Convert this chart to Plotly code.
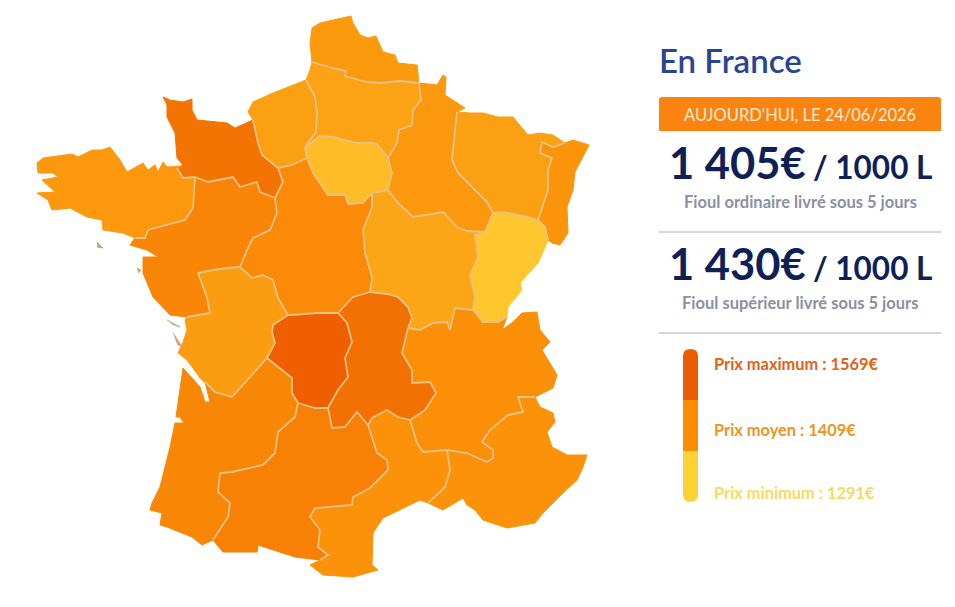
import plotly.graph_objects as go
from plotly.colors import sample_colorscale

# region prices (EUR / 1000 L), estimated from the map colours
PRICE_MIN = 1291
PRICE_AVG = 1409
PRICE_MAX = 1569
PRICE_ORD = "1 405€"
PRICE_SUP = "1 430€"
COLOR_MIN = "#FFCB30"
COLOR_AVG = "#FB9008"
COLOR_MAX = "#EF5F00"

region_names = ["Nord-Pas-de-Calais", "Picardie", "Haute-Normandie", "Basse-Normandie", "Bretagne",
                "Pays de la Loire", "Centre", "Ile-de-France", "Champagne-Ardenne", "Lorraine", "Alsace",
                "Franche-Comté", "Bourgogne", "Auvergne", "Limousin", "Poitou-Charentes", "Aquitaine",
                "Midi-Pyrénées", "Languedoc-Roussillon", "Rhône-Alpes", "PACA"]
region_prices = [1390, 1372, 1378, 1500, 1392, 1445, 1428, 1320, 1392, 1376, 1400,
                 1300, 1366, 1512, 1569, 1385, 1440, 1462, 1405, 1409, 1406]

# shared borders (map units)
npc_pic = [(312,62),(332,68),(346,71),(345,76),(359,80),(367,82),(380,83),(400,81),(419,83)]
pic_hn = [(306,80),(315,97),(317,113),(316,132),(305,147)]
pic_cha = [(419,83),(421,100),(413,110),(412,125),(399,130),(397,143),(388,158)]
pic_idf = [(305,147),(320,136),(333,137),(357,143),(372,143),(377,144),(388,158)]
hn_idf = [(305,147),(307,158)]
hn_bn = [(253,120),(258,143),(262,155),(278,168)]
hn_cen = [(278,168),(292,165),(307,158)]
idf_cha = [(388,158),(392,173),(388,190)]
idf_bou = [(388,190),(372,193)]
idf_cen = [(372,193),(363,203),(348,204),(345,195),(328,195),(313,173),(307,158)]
cen_bou = [(372,193),(372,207),(363,230),(365,253),(372,277),(370,292)]
cen_auv = [(370,292),(353,297),(338,313)]
cen_lim = [(338,313),(317,313),(292,315),(288,315)]
cen_poi = [(288,315),(278,298),(273,280),(263,275),(252,278),(240,267)]
cen_pdl = [(240,267),(247,250),(253,238),(270,230),(277,213),(275,198)]
cen_bn = [(275,198),(283,182),(278,168)]
bn_pdl = [(195,177),(208,182),(233,177),(240,187),(257,182),(260,192),(275,198)]
bn_bre = [(177,168),(183,178),(195,177)]
bre_pdl = [(195,177),(193,208),(185,220),(148,230),(145,238),(135,238)]
pdl_poi = [(240,267),(227,268),(213,270),(198,273),(207,298),(210,313),(187,317)]
poi_lim = [(288,315),(273,325),(272,332),(275,343),(267,358)]
poi_aqu = [(267,358),(247,380),(232,397),(215,392),(205,382)]
lim_auv = [(338,313),(347,323),(352,342),(345,358),(348,377),(338,390),(328,408)]
lim_aqu = [(267,358),(278,367),(292,378),(292,393),(298,403)]
lim_mid = [(298,403),(315,408),(328,408)]
auv_mid = [(328,408),(332,428),(345,427),(357,412),(368,425)]
auv_lr = [(368,425),(372,418),(387,410),(398,417),(410,420)]
auv_ra = [(410,420),(425,410),(436,393),(430,382),(412,383),(412,370),(402,353),(405,340),(408,328)]
auv_bou = [(408,328),(412,318),(408,307),(398,297),(387,294),(370,292)]
bou_ra = [(408,328),(420,330),(433,323),(447,322),(450,330),(455,308),(473,310)]
bou_fc = [(473,310),(475,297),(470,275),(478,257),(475,235),(485,232)]
bou_cha = [(388,190),(398,203),(413,217),(443,212),(457,227),(467,231),(485,232)]
cha_lor = [(457,112),(453,150),(452,160),(458,173),(475,190),(487,202),(493,213)]
cha_fc = [(485,232),(493,213)]
lor_fc = [(493,213),(503,212),(527,217),(538,220)]
lor_als = [(565,143),(553,147),(542,142),(540,153),(552,158),(548,170),(548,190),(538,220)]
als_fc = [(538,220),(545,227),(548,240)]
fc_ra = [(473,310),(483,322),(498,322),(507,317)]
aqu_mid = [(298,403),(295,417),(278,432),(275,453),(263,465),(232,472),(220,473),(218,492),(230,503),(228,517),(213,540)]
mid_lr = [(368,425),(377,453),(387,460),(388,470),(370,488),(353,497),(352,505),(315,508),(310,517),(320,530),(318,547),(328,555),(320,560)]
lr_ra = [(410,420),(417,443),(423,452),(447,450)]
lr_paca = [(447,450),(450,470),(445,487),(428,503)]
ra_paca = [(447,450),(467,453),(487,462),(493,458),(493,450),(482,442),(490,430),(508,415),(523,412),(518,397),(535,397)]

# coasts and land frontiers
c_npc = [(312,62),(310,43),(312,28),(320,23),(333,20),(351,16),(353,23),(360,35),(368,38),(376,36),(383,52),(395,55),(398,63),(417,65),(419,83)]
c_pic = [(306,80),(310,70),(312,62)]
c_hn = [(253,120),(250,115),(248,112),(253,102),(273,93),(306,80)]
c_bn = [(177,168),(183,165),(177,158),(175,133),(167,117),(167,105),(163,97),(170,100),(183,102),(192,99),(192,110),(197,120),(227,123),(235,128),(253,120)]
c_bre = [(135,238),(123,233),(103,230),(102,220),(87,217),(70,208),(52,210),(48,200),(37,193),(55,192),(48,185),(42,180),(58,177),(53,173),(38,173),(37,163),(43,158),(72,154),(78,157),(92,150),(102,150),(110,147),(120,160),(127,172),(143,163),(148,170),(155,165),(158,172),(163,162),(167,167),(182,166),(177,168)]
c_pdl = [(187,317),(170,315),(153,297),(143,273),(143,257),(158,257),(147,250),(130,245),(135,238)]
c_cha = [(419,83),(437,85),(443,75),(446,77),(445,95),(465,108),(457,112)]
c_lor = [(457,112),(470,113),(483,113),(498,117),(513,117),(528,135),(540,133),(553,135),(565,143)]
c_als = [(565,143),(573,140),(589,145),(583,157),(575,172),(573,190),(567,207),(568,233),(560,245),(552,243),(548,240)]
c_fc = [(548,240),(543,252),(538,263),(520,283),(522,290),(508,307),(507,317)]
c_poi = [(205,382),(200,378),(187,360),(178,353),(183,342),(187,330),(185,320),(187,317)]
c_aqu = [(213,540),(202,545),(192,537),(167,527),(160,525),(162,513),(150,510),(152,503),(160,487),(170,447),(175,423),(184,423),(180,417),(176,417),(183,368),(200,387),(205,402),(210,402),(205,382)]
c_mid = [(320,560),(295,557),(258,545),(257,552),(223,552),(213,540)]
c_lr = [(428,503),(420,500),(383,518),(373,533),(372,565),(378,570),(353,577),(323,575),(310,565),(320,560)]
c_ra = [(507,317),(502,330),(513,322),(522,313),(537,312),(540,330),(550,342),(542,350),(557,375),(553,388),(535,397)]
c_paca = [(535,397),(540,407),(553,413),(555,422),(547,432),(552,447),(567,455),(587,455),(583,467),(577,480),(563,493),(543,513),(535,523),(507,528),(483,520),(475,510),(467,505),(463,498),(443,510),(428,503)]

islands = [[(97,242),(103,248),(97,247)], [(137,268),(141,270),(138,273)],
           [(167,320),(180,327),(172,324)], [(173,333),(183,348),(177,344)]]

borders = [npc_pic, pic_hn, pic_cha, pic_idf, hn_idf, hn_bn, hn_cen, idf_cha, idf_bou, idf_cen, cen_bou,
           cen_auv, cen_lim, cen_poi, cen_pdl, cen_bn, bn_pdl, bn_bre, bre_pdl, pdl_poi, poi_lim, poi_aqu,
           lim_auv, lim_aqu, lim_mid, auv_mid, auv_lr, auv_ra, auv_bou, bou_ra, bou_fc, bou_cha, cha_lor,
           cha_fc, lor_fc, lor_als, als_fc, fc_ra, aqu_mid, mid_lr, lr_ra, lr_paca, ra_paca]


def rev(chain):
    return chain[::-1]


outlines = [
    c_npc + rev(npc_pic),
    npc_pic + pic_cha + rev(pic_idf) + rev(pic_hn) + c_pic,
    c_hn + pic_hn + hn_idf + rev(hn_cen) + rev(hn_bn),
    c_bn + hn_bn + rev(cen_bn) + rev(bn_pdl) + rev(bn_bre),
    bn_bre + bre_pdl + c_bre,
    rev(bre_pdl) + bn_pdl + rev(cen_pdl) + pdl_poi + c_pdl,
    hn_cen + rev(idf_cen) + cen_bou + cen_auv + cen_lim + cen_poi + cen_pdl + cen_bn,
    pic_idf + idf_cha + idf_bou + idf_cen + rev(hn_idf),
    c_cha + cha_lor + rev(cha_fc) + rev(bou_cha) + rev(idf_cha) + rev(pic_cha),
    c_lor + lor_als + rev(lor_fc) + rev(cha_lor),
    c_als + rev(als_fc) + rev(lor_als),
    bou_fc + cha_fc + lor_fc + als_fc + c_fc + rev(fc_ra),
    rev(idf_bou) + bou_cha + rev(bou_fc) + rev(bou_ra) + auv_bou + rev(cen_bou),
    rev(cen_auv) + rev(auv_bou) + rev(auv_ra) + rev(auv_lr) + rev(auv_mid) + rev(lim_auv),
    rev(cen_lim) + lim_auv + rev(lim_mid) + rev(lim_aqu) + rev(poi_lim),
    rev(cen_poi) + poi_lim + poi_aqu + c_poi + rev(pdl_poi),
    rev(poi_aqu) + lim_aqu + aqu_mid + c_aqu,
    lim_mid + auv_mid + mid_lr + c_mid + rev(aqu_mid),
    auv_lr + lr_ra + lr_paca + c_lr + rev(mid_lr),
    auv_ra + bou_ra + fc_ra + c_ra + rev(ra_paca) + rev(lr_ra),
    ra_paca + c_paca + rev(lr_paca),
]

colorscale = [[0, COLOR_MIN], [(PRICE_AVG - PRICE_MIN) / (PRICE_MAX - PRICE_MIN), COLOR_AVG], [1, COLOR_MAX]]

fig = go.Figure()

for name, price, outline in zip(region_names, region_prices, outlines):
    color = sample_colorscale(colorscale, (price - PRICE_MIN) / (PRICE_MAX - PRICE_MIN))[0]
    fig.add_trace(go.Scatter(x=[p[0] for p in outline], y=[p[1] for p in outline],
                             mode="lines", fill="toself", fillcolor=color,
                             line=dict(color=color, width=1),
                             name=name, text=f"{name} : {price}€", hoverinfo="text", showlegend=False))

for island in islands:
    fig.add_trace(go.Scatter(x=[p[0] for p in island], y=[p[1] for p in island],
                             mode="lines", fill="toself", fillcolor="#C8A880",
                             line=dict(color="#C8A880", width=1), hoverinfo="skip", showlegend=False))

border_x, border_y = [], []
for chain in borders:
    border_x += [p[0] for p in chain] + [None]
    border_y += [p[1] for p in chain] + [None]
fig.add_trace(go.Scatter(x=border_x, y=border_y, mode="lines",
                         line=dict(color="#E4C285", width=1.8), hoverinfo="skip", showlegend=False))

FONT = "Lato"
NAVY = "#0F1F57"
GREY = "#8A90A4"


def label(x, y, text, size, color, anchor="center", weight=400):
    fig.add_annotation(x=x, y=y, text=text, showarrow=False, xanchor=anchor, yanchor="middle",
                       font=dict(family=FONT, size=size, color=color, weight=weight))


label(657, 60, "En France", 33, "#2A4494", "left", 600)

# date banner with rounded corners
fig.add_shape(type="path", fillcolor="#FB8410", line_width=0,
              path="M 659 100 Q 659 97 662 97 L 938 97 Q 941 97 941 100 L 941 131 L 659 131 Z")
label(800, 115, "AUJOURD'HUI, LE 24/06/2026", 16.5, "#FDEBD3")

label(667, 162, PRICE_ORD, 43.5, NAVY, "left", 700)
label(934, 167, "/ 1000 L", 31.5, NAVY, "right", 700)
label(800, 202, "Fioul ordinaire livré sous 5 jours", 16.5, GREY, weight=700)

fig.add_shape(type="line", x0=659, x1=941, y0=232, y1=232, line=dict(color="#999999", width=0.8))

label(667, 263, PRICE_SUP, 43.5, NAVY, "left", 700)
label(934, 268, "/ 1000 L", 31.5, NAVY, "right", 700)
label(800, 303, "Fioul supérieur livré sous 5 jours", 16.5, GREY, weight=700)

fig.add_shape(type="line", x0=659, x1=941, y0=333, y1=333, line=dict(color="#999999", width=0.8))

# price key
fig.add_shape(type="path", fillcolor="#EB5E00", line_width=0,
              path="M 683 400 L 683 356 Q 683 349 690.5 349 Q 698 349 698 356 L 698 400 Z")
fig.add_shape(type="rect", x0=683, x1=698, y0=400, y1=451, fillcolor="#FB8C00", line_width=0)
fig.add_shape(type="path", fillcolor="#FDD235", line_width=0,
              path="M 683 451 L 683 495 Q 683 502 690.5 502 Q 698 502 698 495 L 698 451 Z")
label(712, 363, f"Prix maximum : {PRICE_MAX}€", 16.4, "#DF6218", "left", 700)
label(712, 429, f"Prix moyen : {PRICE_AVG}€", 16.4, "#EE9422", "left", 700)
label(712, 492, f"Prix minimum : {PRICE_MIN}€", 16.4, "#F7DA5E", "left", 700)

# the page keeps its 8px body margin, so the axes start at 8
fig.update_xaxes(range=[8, 947], visible=False, fixedrange=True)
fig.update_yaxes(range=[599, 8], visible=False, fixedrange=True)
fig.update_layout(width=939, height=591, margin=dict(l=0, r=0, t=0, b=0),
                  plot_bgcolor="white", paper_bgcolor="white", hovermode="closest")

fig.write_html("out.html")
